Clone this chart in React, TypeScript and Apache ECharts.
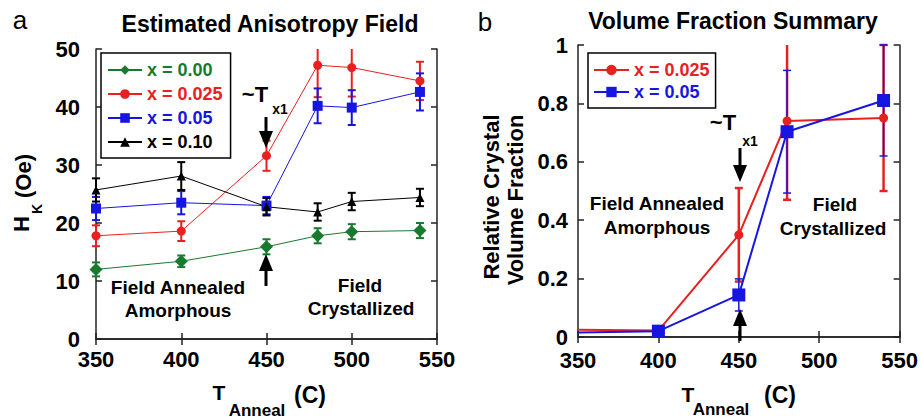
import React, { useEffect, useRef } from 'react';
import * as echarts from 'echarts';

const FONT = "'Liberation Sans', Arial, Helvetica, sans-serif";

// Panel a: estimated anisotropy field H_K (Oe)
const tempsA = [350, 400, 450, 480, 500, 540];
const hk000 = [12.0, 13.4, 15.9, 17.8, 18.5, 18.7];
const hk000Err = [1.2, 1.0, 1.3, 1.3, 1.3, 1.3];
const hk025 = [17.8, 18.6, 31.6, 47.2, 46.8, 44.5];
const hk025Err = [1.8, 1.7, 2.6, 5.5, 5.0, 3.3];
const hk050 = [22.5, 23.5, 23.0, 40.2, 39.9, 42.6];
const hk050Err = [2.0, 2.0, 1.5, 3.0, 3.0, 3.2];
const hk100 = [25.7, 28.1, 22.8, 21.9, 23.7, 24.4];
const hk100Err = [2.0, 2.4, 1.5, 1.5, 1.5, 1.5];

// Panel b: relative crystal volume fraction
const tempsB = [350, 400, 450, 480, 540];
const vf025 = [0.025, 0.022, 0.35, 0.74, 0.75];
const vf025Err = [0, 0, 0.16, 0.27, 0.25];
const vf050 = [0.015, 0.02, 0.144, 0.703, 0.81];
const vf050Err = [0, 0, 0.055, 0.21, 0.19];

const legendA = ['x = 0.00', 'x = 0.025', 'x = 0.05', 'x = 0.10'];
const legendB = ['x = 0.025', 'x = 0.05'];

const GREEN = '#187a2e';
const RED = '#e8201f';
const BLUE = '#1616e0';
const BLACK = '#000000';

function errSeries(xs: number[], ys: number[], errs: number[], color: string, xi: number, yi: number,
  yMin: number, yMax: number, cap: number, lw: number) {
  const data: number[][] = [];
  xs.forEach((x, i) => { if (errs[i] > 0) data.push([x, ys[i] - errs[i], ys[i] + errs[i]]); });
  return {
    type: 'custom', xAxisIndex: xi, yAxisIndex: yi, silent: true, z: 2,
    data,
    encode: { x: 0, y: [1, 2] },
    renderItem: (_p: any, api: any) => {
      const x = api.value(0), lo = api.value(1), hi = api.value(2);
      const loC = Math.max(lo, yMin), hiC = Math.min(hi, yMax);
      const t = api.coord([x, hiC]);
      const b = api.coord([x, loC]);
      const st = { stroke: color, lineWidth: lw };
      const children: any[] = [{ type: 'line', shape: { x1: t[0], y1: t[1], x2: b[0], y2: b[1] }, style: st }];
      if (hi <= yMax) children.push({ type: 'line', shape: { x1: t[0] - cap, y1: t[1], x2: t[0] + cap, y2: t[1] }, style: st });
      if (lo >= yMin) children.push({ type: 'line', shape: { x1: b[0] - cap, y1: b[1], x2: b[0] + cap, y2: b[1] }, style: st });
      return { type: 'group', children };
    },
  };
}

function lineSeries(name: string, xs: number[], ys: number[], color: string, symbol: string, size: number,
  lw: number, xi: number, yi: number, hideFirst = false) {
  return {
    type: 'line', name, xAxisIndex: xi, yAxisIndex: yi, z: 3,
    data: xs.map((x, i) => (hideFirst && i === 0 ? { value: [x, ys[i]], symbol: 'none' } : [x, ys[i]])),
    symbol, symbolSize: size, showAllSymbol: true,
    lineStyle: { color, width: lw },
    itemStyle: { color },
    clip: true,
  };
}

const axisLineStyle = { show: true, lineStyle: { color: '#222', width: 1.5 } };
const tickStyle = { show: true, inside: true, length: 6, lineStyle: { color: '#222', width: 1.5 } };
const labelStyle = { fontFamily: FONT, fontWeight: 'bold' as const, fontSize: 22, color: '#000' };

function xAxes(gi: number, margin: number) {
  const base = { type: 'value', gridIndex: gi, min: 350, max: 550, interval: 50, splitLine: { show: false },
    axisLine: axisLineStyle, axisTick: tickStyle };
  return [
    { ...base, position: 'bottom', axisLabel: { ...labelStyle, margin } },
    { ...base, position: 'top', axisLabel: { show: false } },
  ];
}
function yAxes(gi: number, max: number, interval: number, margin: number) {
  const base = { type: 'value', gridIndex: gi, min: 0, max, interval, splitLine: { show: false },
    axisLine: axisLineStyle, axisTick: tickStyle };
  return [
    { ...base, position: 'left', axisLabel: { ...labelStyle, margin } },
    { ...base, position: 'right', axisLabel: { show: false } },
  ];
}

function txt(text: string, x: number, y: number, size: number, opts: any = {}) {
  return {
    type: 'text', x, y, rotation: opts.rot || 0, z: 10,
    style: {
      text, fill: opts.color || '#000', align: 'center', verticalAlign: 'middle',
      font: `${opts.weight || 'bold'} ${size}px ${FONT}`,
    },
  };
}
function arrowDown(x: number, y0: number, tip: number) {
  return [
    { type: 'line', z: 10, shape: { x1: x, y1: y0, x2: x, y2: tip - 14 }, style: { stroke: '#000', lineWidth: 3 } },
    { type: 'polygon', z: 10, shape: { points: [[x - 7, tip - 17], [x + 7, tip - 17], [x, tip]] }, style: { fill: '#000' } },
  ];
}
function arrowUp(x: number, tip: number, y1: number) {
  return [
    { type: 'line', z: 10, shape: { x1: x, y1: tip + 14, x2: x, y2: y1 }, style: { stroke: '#000', lineWidth: 3 } },
    { type: 'polygon', z: 10, shape: { points: [[x - 7, tip + 17], [x + 7, tip + 17], [x, tip]] }, style: { fill: '#000' } },
  ];
}

export default function App() {
  const ref = useRef<HTMLDivElement>(null);
  useEffect(() => {
    if (!ref.current) return;
    const chart = echarts.init(ref.current, undefined, { renderer: 'svg' });
    const legendTextA = [GREEN, RED, BLUE, BLACK];
    const legendTextB = [RED, BLUE];
    const option: any = {
      animation: false,
      backgroundColor: '#fff',
      grid: [
        { left: 96, top: 49, width: 341, height: 290, show: false },
        { left: 578, top: 45, width: 325, height: 292, show: false },
      ],
      xAxis: [...xAxes(0, 9), ...xAxes(1, 12)],
      yAxis: [...yAxes(0, 50, 10, 16), ...yAxes(1, 1, 0.2, 10)],
      legend: [
        {
          orient: 'vertical', left: 101, top: 53, padding: [8, 8, 7, 6], itemGap: 6,
          itemWidth: 34, itemHeight: 12, borderColor: '#000', borderWidth: 1.5, backgroundColor: '#fff',
          selectedMode: false,
          textStyle: { fontFamily: FONT, fontWeight: 'bold', fontSize: 18, lineHeight: 18 },
          data: legendA.map((n, i) => ({ name: n, textStyle: { color: legendTextA[i] } })),
        },
        {
          orient: 'vertical', left: 588, top: 53, padding: [8, 6, 7, 5], itemGap: 4,
          itemWidth: 35, itemHeight: 13, borderColor: '#000', borderWidth: 1.5, backgroundColor: '#fff',
          selectedMode: false,
          formatter: (n: string) => n.replace(' (b)', ''),
          textStyle: { fontFamily: FONT, fontWeight: 'bold', fontSize: 18, lineHeight: 18 },
          data: legendB.map((n, i) => ({ name: n + ' (b)', textStyle: { color: legendTextB[i] } })),
        },
      ],
      series: [
        errSeries(tempsA, hk000, hk000Err, GREEN, 0, 0, 0, 50, 4, 2),
        errSeries(tempsA, hk025, hk025Err, RED, 0, 0, 0, 50, 4, 2),
        errSeries(tempsA, hk050, hk050Err, BLUE, 0, 0, 0, 50, 4, 2),
        errSeries(tempsA, hk100, hk100Err, BLACK, 0, 0, 0, 50, 4, 2),
        lineSeries(legendA[0], tempsA, hk000, GREEN, 'diamond', 13, 1, 0, 0),
        lineSeries(legendA[1], tempsA, hk025, RED, 'circle', 9, 1, 0, 0),
        lineSeries(legendA[2], tempsA, hk050, BLUE, 'rect', 10, 1, 0, 0),
        lineSeries(legendA[3], tempsA, hk100, BLACK, 'triangle', 9, 1, 0, 0),
        errSeries(tempsB, vf025, vf025Err, RED, 2, 2, 0, 1, 4, 2.5),
        errSeries(tempsB, vf050, vf050Err, BLUE, 2, 2, 0, 1, 4, 1.5),
        lineSeries(legendB[0] + ' (b)', tempsB, vf025, RED, 'circle', 9, 2, 2, 2, true),
        lineSeries(legendB[1] + ' (b)', tempsB, vf050, BLUE, 'rect', 13, 2, 2, 2, true),
      ],
      graphic: [
        txt('a', 20, 20, 26, { weight: 'normal' }),
        txt('b', 485, 22, 26, { weight: 'normal' }),
        txt('Estimated Anisotropy Field', 270, 24, 23),
        txt('Volume Fraction Summary', 733, 21, 23),
        txt('~T', 255, 94, 22), txt('x1', 280, 109, 14),
        txt('~T', 723, 122, 22), txt('x1', 750, 141, 14),
        ...arrowDown(266, 117, 148), ...arrowUp(266, 254, 286),
        ...arrowDown(740, 148, 182), ...arrowUp(740, 309, 341),
        txt('Field Annealed', 178, 287, 19), txt('Amorphous', 178, 310, 19),
        txt('Field', 360, 285, 19), txt('Crystallized', 361, 308, 19),
        txt('Field Annealed', 657, 203, 19), txt('Amorphous', 657, 227, 19),
        txt('Field', 835, 204, 19), txt('Crystallized', 833, 228, 19),
        txt('T', 219, 392, 21), txt('Anneal', 257, 410, 17), txt('(C)', 310, 395, 23),
        txt('T', 688, 394, 21), txt('Anneal', 721, 409, 17), txt('(C)', 780, 395, 23),
        txt('H', 21, 224, 22, { rot: Math.PI / 2 }), txt('K', 37, 209, 14, { rot: Math.PI / 2 }),
        txt('(Oe)', 23, 176, 22, { rot: Math.PI / 2 }),
        txt('Relative Crystal', 491, 197, 22, { rot: Math.PI / 2 }),
        txt('Volume Fraction', 515, 200, 22, { rot: Math.PI / 2 }),
      ],
    };
    chart.setOption(option);
    return () => chart.dispose();
  }, []);
  return <div ref={ref} style={{ position: 'fixed', left: 0, top: 0, width: 921, height: 419, background: '#fff' }} />;
}
